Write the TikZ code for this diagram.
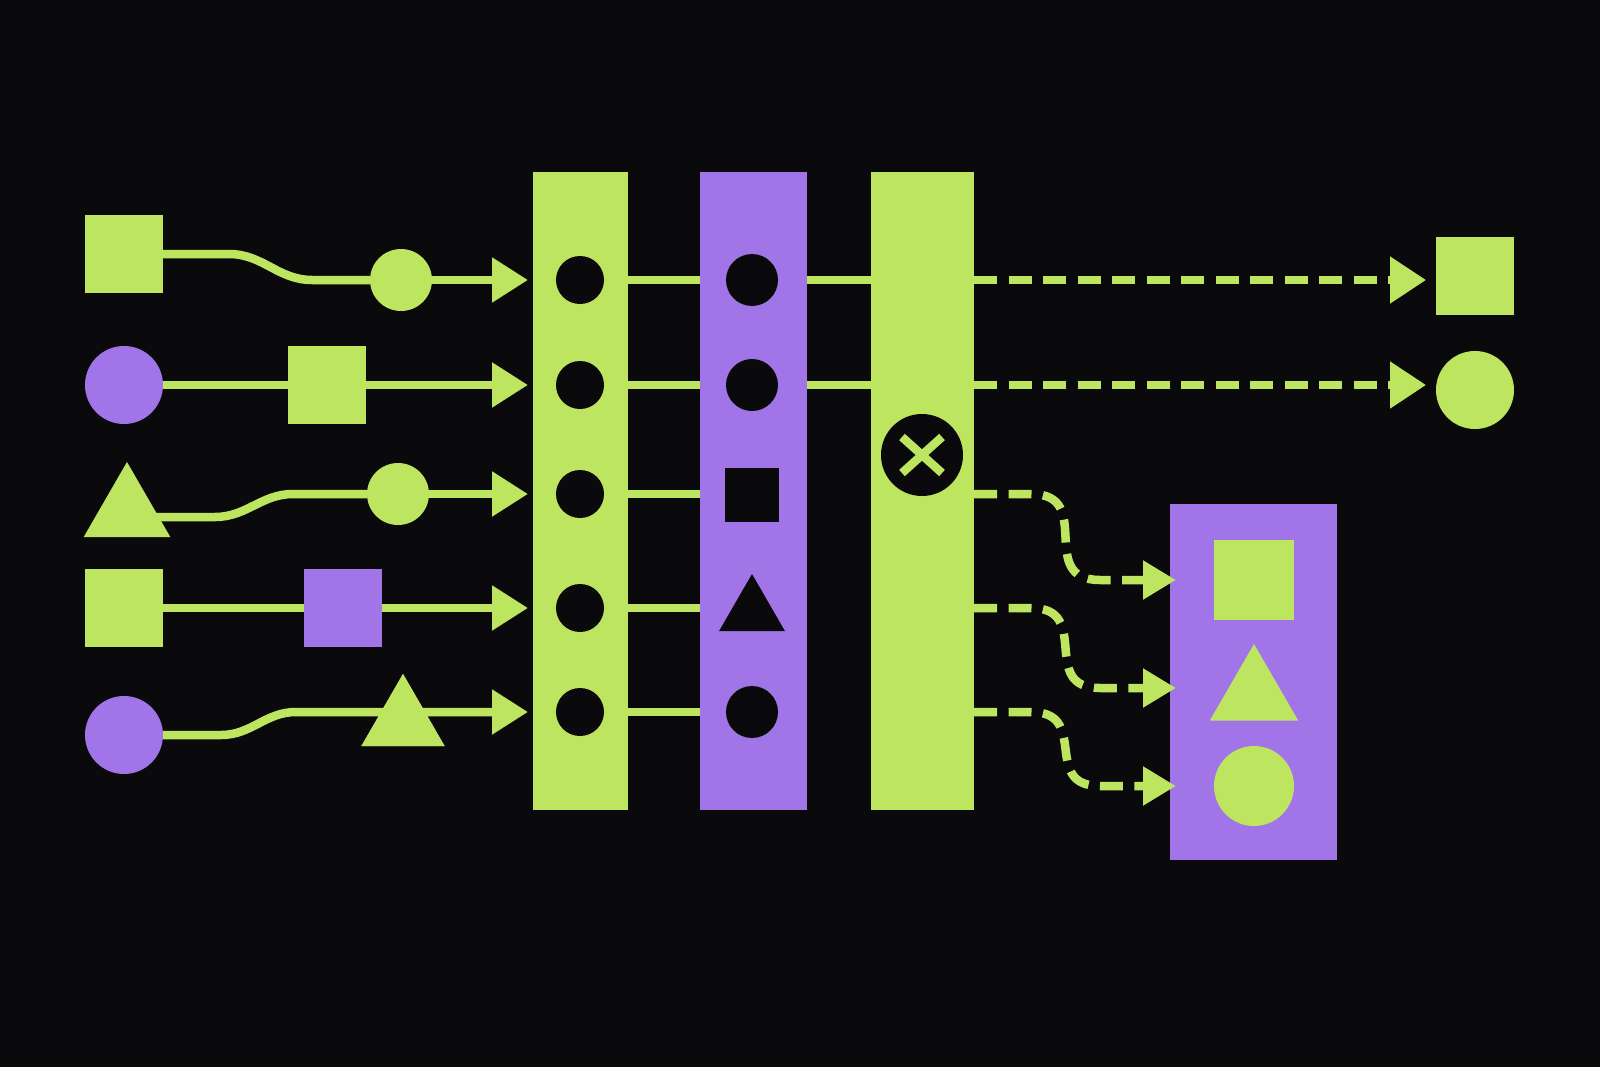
\documentclass[tikz,border=0pt]{standalone}
\usetikzlibrary{arrows.meta,shapes.geometric,calc}
\definecolor{limecolor}{RGB}{190,229,96}
\definecolor{violetcolor}{RGB}{161,117,232}
\definecolor{inkcolor}{RGB}{10,10,12}
\newlength{\du}
\setlength{\du}{0.1mm}
\tikzset{
  box/.style={rectangle,inner sep=0pt,outer sep=0pt,draw=none},
  sq/.style={box,minimum size=#1\du},
  disc/.style={circle,inner sep=0pt,outer sep=0pt,minimum size=#1\du},
  tri/.style={regular polygon,regular polygon sides=3,inner sep=0pt,outer sep=0pt,minimum size=#1\du},
  lane/.style={box,minimum height=638\du},
  wire/.style={draw=limecolor,line width=8.5\du},
  feed/.style={wire,-{Triangle[length=3.6mm,width=4.3mm]},shorten >=0.5mm},
  dashwire/.style={wire,dash pattern=on 2.3mm off 1.15mm},
  outfeed/.style={dashwire,-{Triangle[length=3.6mm,width=4.5mm]},shorten >=1mm},
  sortfeed/.style={dashwire,-{Triangle[length=3.3mm,width=3.7mm]},shorten >=-0.6mm},
}
\begin{document}
\begin{tikzpicture}[x=1\du,y=-1\du]
\fill[inkcolor] (0,0) rectangle (1600,1067);
% columns
\node[lane,fill=limecolor,minimum width=95\du] (col1) at (580.5,491) {};
\node[lane,fill=violetcolor,minimum width=107\du] (col2) at (753.5,491) {};
\node[lane,fill=limecolor,minimum width=103\du] (col3) at (922.5,491) {};
\foreach \r/\y in {1/280,2/385,3/494,4/608,5/712}
  \node[disc=48,fill=inkcolor] (a\r) at (580,\y) {};
\node[disc=52,fill=inkcolor] (b1) at (752,280) {};
\node[disc=52,fill=inkcolor] (b2) at (752,385) {};
\node[sq=54,fill=inkcolor] (b3) at (752,495) {};
\node[tri=76,fill=inkcolor] (b4) at (752,612) {};
\node[disc=52,fill=inkcolor] (b5) at (752,712) {};
\node[disc=82,fill=inkcolor] (mix) at (922,455) {};
% inputs
\node[sq=78,fill=limecolor] (i1) at (124,254) {};
\node[disc=78,fill=violetcolor] (i2) at (124,385) {};
\node[tri=100,fill=limecolor] (i3) at (127,512) {};
\node[sq=78,fill=limecolor] (i4) at (124,608) {};
\node[disc=78,fill=violetcolor] (i5) at (124,735) {};
\node[disc=62,fill=limecolor] (m1) at (401,280) {};
\node[sq=78,fill=limecolor] (m2) at (327,385) {};
\node[disc=62,fill=limecolor] (m3) at (398,494) {};
\node[sq=78,fill=violetcolor] (m4) at (343,608) {};
\node[tri=96,fill=limecolor] (m5) at (403,722) {};
% outputs
\node[sq=78,fill=limecolor] (o1) at (1475,276) {};
\node[disc=78,fill=limecolor] (o2) at (1475,390) {};
\node[box,fill=violetcolor,minimum width=167\du,minimum height=356\du] (tray) at (1253.5,681.5) {};
\node[sq=80,fill=limecolor] (t1) at (1254,580) {};
\node[tri=102,fill=limecolor] (t2) at (1254,695) {};
\node[disc=80,fill=limecolor] (t3) at (1254,786) {};
% input wires
\draw[wire] (i1.east) -- ++(66,0) to[out=0,in=180] ++(83,26) -- (m1.west);
\draw[feed] (m1.east) -- (m1 -| col1.west);
\draw[wire] (i2.east) -- (m2.west);
\draw[feed] (m2.east) -- (m2 -| col1.west);
\draw[wire] ($(i3)+(0,5)$) -- ++(88,0) to[out=0,in=180] ++(78,-23) -- (m3.west);
\draw[feed] (m3.east) -- (m3 -| col1.west);
\draw[wire] (i4.east) -- (m4.west);
\draw[feed] (m4.east) -- (m4 -| col1.west);
\draw[feed] (i5.east) -- ++(58,0) to[out=0,in=180] ++(75,-23) -- (a5 -| col1.west);
\node[tri=96,fill=limecolor] at (m5) {};
% between columns
\foreach \r in {1,...,5}
  \draw[wire] (a\r -| col1.east) -- (a\r -| col2.west);
\foreach \r in {1,2}
  \draw[wire] (b\r -| col2.east) -- (b\r -| col3.west);
\draw[wire] ($(mix)+(-20,-18)$) -- ($(mix)+(20,18)$);
\draw[wire] ($(mix)+(-20,18)$) -- ($(mix)+(20,-18)$);
% output wires
\draw[outfeed] (b1 -| col3.east) -- (b1 -| o1.west);
\draw[outfeed] (b2 -| col3.east) -- (b2 -| o2.west);
\draw[sortfeed] (a3 -| col3.east) -- ++(57,0)
  to[out=0,in=180,looseness=1.5] ($(t1 -| tray.west)+(-70,0)$) -- (t1 -| tray.west);
\draw[sortfeed] (a4 -| col3.east) -- ++(57,0)
  to[out=0,in=180,looseness=1.5] ($(t2 -| tray.west)+(-70,-7)$) -- ($(t2 -| tray.west)+(0,-7)$);
\draw[sortfeed] (a5 -| col3.east) -- ++(57,0)
  to[out=0,in=180,looseness=1.5] ($(t3 -| tray.west)+(-70,0)$) -- (t3 -| tray.west);
\end{tikzpicture}
\end{document}
